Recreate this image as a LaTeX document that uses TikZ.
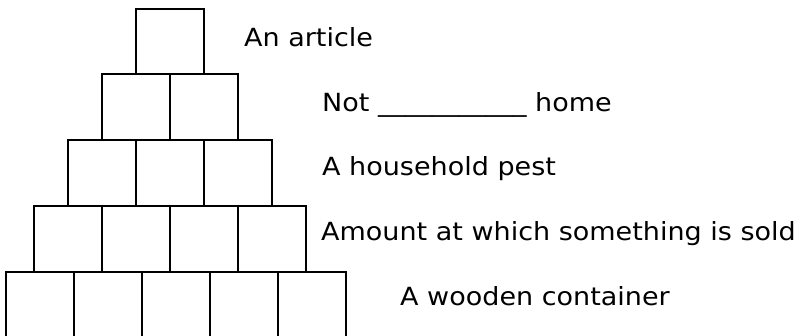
\documentclass[tikz,border=0pt]{standalone}
\usepackage{fontspec}
\setmainfont{DejaVu Sans}[FakeStretch=1.08]
\tikzset{
	clue/.style={anchor=base west,inner sep=0pt,font=\fontsize{25}{30}\selectfont},
	cell/.style={line width=2pt}
}
\begin{document}
\begin{tikzpicture}[x=1pt,y=-1pt]
		\useasboundingbox (0,0) rectangle (796,336);
		
		% row 1
		\draw[cell] (136,9) rectangle (204,74);
		% row 2
		\draw[cell] (102,74) rectangle (170,140);
		\draw[cell] (170,74) rectangle (238,140);
		% row 3
		\draw[cell] (68,140) rectangle (136,206);
		\draw[cell] (136,140) rectangle (204,206);
		\draw[cell] (204,140) rectangle (272,206);
		% row 4
		\draw[cell] (34,206) rectangle (102,272);
		\draw[cell] (102,206) rectangle (170,272);
		\draw[cell] (170,206) rectangle (238,272);
		\draw[cell] (238,206) rectangle (306,272);
		% row 5
		\draw[cell] (6,272) rectangle (74,338);
		\draw[cell] (74,272) rectangle (142,338);
		\draw[cell] (142,272) rectangle (210,338);
		\draw[cell] (210,272) rectangle (278,338);
		\draw[cell] (278,272) rectangle (346,338);
		
		\node[clue] (article) at (244,47) {An article};
		\node[clue] (home) at (322,112) {Not \_\_\_\_\_\_\_\_\_\_\_ home};
		\node[clue] (pest) at (322,176) {A household pest};
		\node[clue] (price) at (321,241) {Amount at which something is sold};
		\node[clue] (crate) at (400,306) {A wooden container};
		\end{tikzpicture}
\end{document}
